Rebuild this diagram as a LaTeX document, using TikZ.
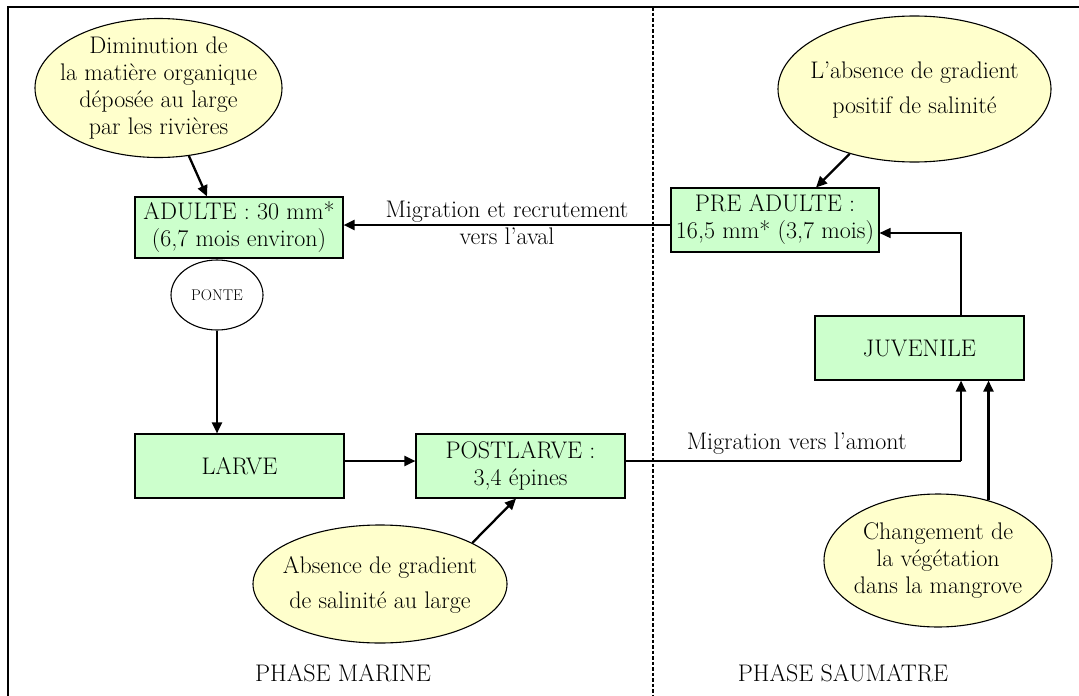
\documentclass[tikz,border=0pt]{standalone}
\usepackage{fontspec}
\usetikzlibrary{arrows.meta,shapes.geometric}
\definecolor{boxgreen}{HTML}{CCFFCC}
\definecolor{ellyellow}{HTML}{FFFFCC}
\tikzset{
  stagebox/.style={draw, line width=1.1pt, fill=boxgreen, inner sep=0pt, align=center,
    font=\fontsize{24}{27}\selectfont},
  factor/.style={ellipse, draw, line width=1.1pt, fill=ellyellow, inner sep=0pt},
  arr/.style={line width=2.3pt, -{Triangle[length=11pt,width=10pt]}},
  thinline/.style={line width=1.2pt},
  lbl/.style={font=\fontsize{24}{27}\selectfont, align=center, inner sep=0pt}
}
\begin{document}
\begin{tikzpicture}[x=1pt,y=-1pt]
\useasboundingbox (0,0) rectangle (1079,696);
% frame and separator
\draw[line width=1.6pt] (8,696) -- (8,7) -- (1079,7);
\draw[line width=2.2pt, dash pattern=on 3.5pt off 2pt] (653,7) -- (653,696);

% stage boxes
\node[stagebox, minimum width=208pt, minimum height=61pt] (adulte) at (239,227.5)
  {ADULTE : 30 mm*\\(6,7 mois environ)};
\node[ellipse, draw, line width=1.1pt, minimum width=92pt, minimum height=70pt, inner sep=0pt,
  font=\fontsize{15.5}{17}\selectfont] (ponte) at (217,295) {PONTE};
\node[stagebox, minimum width=209pt, minimum height=64pt] (larve) at (239.5,466) {LARVE};
\node[stagebox, minimum width=209pt, minimum height=64pt] (post) at (520.5,466)
  {POSTLARVE :\\3,4 épines};
\node[stagebox, minimum width=208pt, minimum height=64pt] (pre) at (775,220)
  {PRE ADULTE :\\16,5 mm* (3,7 mois)};
\node[stagebox, minimum width=209pt, minimum height=64pt] (juv) at (919.5,348) {JUVENILE};

% factor ellipses
\node[factor, minimum width=247pt, minimum height=139pt,
  label={[lbl]center:{Diminution de\\la matière organique\\déposée au large\\par les rivières}}]
  (e1) at (158.5,88) {};
\node[factor, minimum width=273pt, minimum height=146pt,
  label={[lbl, yshift=-1pt]center:{L’absence de gradient\\[8pt]positif de salinité}}]
  (e2) at (914.5,89) {};
\node[factor, minimum width=254pt, minimum height=118pt,
  label={[lbl, yshift=-1pt]center:{Absence de gradient\\[8pt]de salinité au large}}]
  (e3) at (380,584) {};
\node[factor, minimum width=228pt, minimum height=133pt,
  label={[lbl]center:{Changement de\\la végétation\\dans la mangrove}}]
  (e4) at (938,560.5) {};

% phase labels
\node[lbl] (pm) at (343,673) {PHASE MARINE};
\node[lbl] (ps) at (843,673) {PHASE SAUMATRE};

% connectors
\draw[arr] (e1) -- ([xshift=-32pt]adulte.north);
\draw[arr] (e2) -- ([xshift=41pt]pre.north);
\draw[arr] (e3.24) -- ([xshift=-4.5pt]post.south);
\draw[arr] (e4.50) -- (e4.50 |- juv.south);
\draw[arr] (ponte) -- (ponte |- larve.north);
\draw[arr] ([yshift=5pt]larve.east) -- ([yshift=5pt]larve.east -| post.west);
\draw[arr] ([yshift=-5pt]pre.west) -- ([yshift=-5pt]pre.west -| adulte.east)
  node[lbl, midway, yshift=2pt] {Migration et recrutement\\vers l’aval};
\coordinate (c1) at (961,461);
\draw[thinline] ([yshift=5pt]post.east) -- (c1)
  node[lbl, pos=0.51, above=6pt] {Migration vers l’amont};
\draw[arr] (c1) -- (c1 |- juv.south);
\draw[line width=1.5pt, -{Triangle[length=11pt,width=10pt]}] ([xshift=41.5pt]juv.north) |- ([yshift=-13pt]pre.east);
\end{tikzpicture}
\end{document}
